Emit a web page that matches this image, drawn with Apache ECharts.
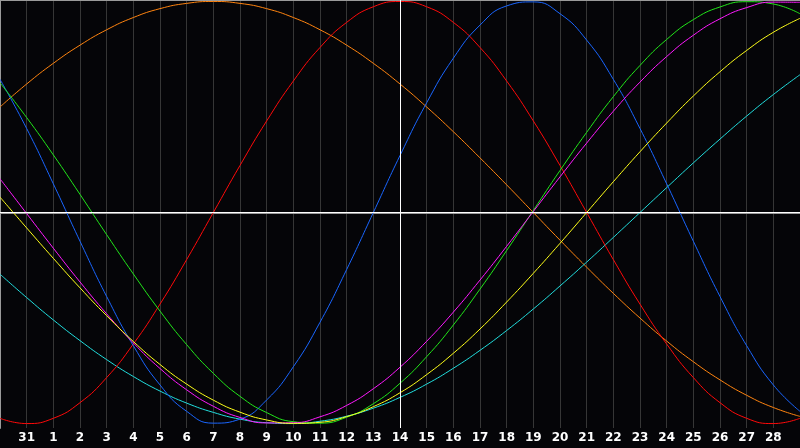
<!DOCTYPE html>
<html style="height: 100%">
<head>
  <meta charset="utf-8">
</head>
<body style="height: 100%; margin: 0; background: #050508">
<div id="chartContainer" style="width: 800px; height: 448px"></div>
<script src="https://cdn.jsdelivr.net/npm/echarts@6/dist/echarts.min.js"></script>
<script>
  // days shown along the bottom (first and last are at the edges, unlabeled)
  var days = ['30', '31', '1', '2', '3', '4', '5', '6', '7', '8', '9', '10', '11', '12', '13',
    '14', '15', '16', '17', '18', '19', '20', '21', '22', '23', '24', '25', '26', '27', '28', '29'];
  var today = '14';

  // values, -100..100 per day
  var red = [-97.5, -100, -97.5, -90.1, -78.2, -62.3, -43.4, -22.3, 0, 22.3, 43.4, 62.3, 78.2, 90.1, 97.5,
    100, 97.5, 90.1, 78.2, 62.3, 43.4, 22.3, 0, -22.3, -43.4, -62.3, -78.2, -90.1, -97.5, -100, -97.5];
  var blue = [63.1, 39.8, 13.6, -13.6, -39.8, -63.1, -81.7, -94.2, -99.8, -97.9, -88.8, -73.1, -52.0, -27.0, 0,
    27.0, 52.0, 73.1, 88.8, 97.9, 99.8, 94.2, 81.7, 63.1, 39.8, 13.6, -13.6, -39.8, -63.1, -81.7, -94.2];
  var green = [61.5, 45.0, 27.3, 8.6, -10.5, -29.1, -46.7, -62.6, -76.2, -87.1, -94.8, -99.1, -99.8, -97.0, -90.6,
    -80.9, -68.3, -53.3, -36.3, -18.0, 1.0, 19.9, 38.0, 54.9, 69.7, 82.0, 91.4, 97.4, 99.9, 98.8, 94.2];
  var orange = [50.0, 60.9, 70.7, 79.3, 86.6, 92.4, 96.6, 99.1, 100, 99.1, 96.6, 92.4, 86.6, 79.3, 70.7,
    60.9, 50.0, 38.3, 25.9, 13.1, 0, -13.1, -25.9, -38.3, -50.0, -60.9, -70.7, -79.3, -86.6, -92.4, -96.6];
  var magenta = [16.0, -0.5, -16.9, -32.9, -48.0, -61.8, -73.9, -84.0, -91.8, -97.1, -99.7, -99.6, -96.8, -91.4, -83.5,
    -73.3, -61.0, -47.2, -32.0, -16.0, 0.5, 16.9, 32.9, 48.0, 61.8, 73.9, 84.0, 91.8, 97.1, 99.7, 99.6];
  var yellow = [7.3, -7.3, -21.7, -35.7, -48.9, -61.1, -72.0, -81.3, -88.9, -94.6, -98.3, -99.9, -99.4, -96.7, -92.0,
    -85.4, -76.8, -66.7, -55.2, -42.4, -28.8, -14.6, 0, 14.6, 28.8, 42.4, 55.2, 66.7, 76.8, 85.4, 92.0];
  var cyan = [-29.2, -40.3, -50.9, -60.7, -69.7, -77.7, -84.6, -90.3, -94.7, -97.9, -99.6, -100, -98.9, -96.5, -92.7,
    -87.6, -81.3, -73.8, -65.3, -55.9, -45.7, -34.8, -23.5, -11.8, 0, 11.8, 23.5, 34.8, 45.7, 55.9, 65.3];

  var lines = [
    {data: orange, color: '#ff8410'},
    {data: cyan, color: '#22dede'},
    {data: red, color: '#ff0a0a'},
    {data: blue, color: '#1a66ff'},
    {data: green, color: '#22e61a'},
    {data: magenta, color: '#ff1aff'},
    {data: yellow, color: '#ffff1a'}
  ];

  var myChart = echarts.init(document.getElementById('chartContainer'));

  var series = lines.map(function (l) {
    return {
      type: 'line',
      data: l.data,
      smooth: true,
      showSymbol: false,
      lineStyle: {color: l.color, width: 1},
      silent: true
    };
  });

  // white cross: zero line and today line
  series.push({
    type: 'line',
    data: [],
    markLine: {
      silent: true,
      symbol: 'none',
      label: {show: false},
      lineStyle: {color: '#ffffff', width: 1, type: 'solid'},
      data: [{yAxis: 0}, {xAxis: today}]
    }
  });

  var option = {
    backgroundColor: '#050508',
    animation: false,
    grid: {left: 0, right: 0, top: 0, bottom: 20},
    xAxis: [{
      type: 'category',
      data: days,
      boundaryGap: false,
      axisLine: {lineStyle: {color: '#9a9a9a', width: 2}},
      axisTick: {show: false},
      splitLine: {show: true, lineStyle: {color: '#363636', width: 1}},
      axisLabel: {
        color: '#ffffff',
        fontFamily: 'DejaVu Sans',
        fontWeight: 'bold',
        fontSize: 12,
        margin: 4,
        interval: function (i) { return i > 0 && i < days.length - 1; }
      }
    }, {
      type: 'category',
      data: days,
      position: 'top',
      boundaryGap: false,
      axisLine: {lineStyle: {color: '#9a9a9a', width: 2}},
      axisTick: {show: false},
      axisLabel: {show: false}
    }],
    yAxis: {
      type: 'value',
      min: -102.1,
      max: 100.7,
      axisLine: {show: true, lineStyle: {color: '#9a9a9a', width: 2}},
      axisTick: {show: false},
      axisLabel: {show: false},
      splitLine: {show: false}
    },
    series: series
  };

  myChart.setOption(option);
</script>
</body>
</html>
